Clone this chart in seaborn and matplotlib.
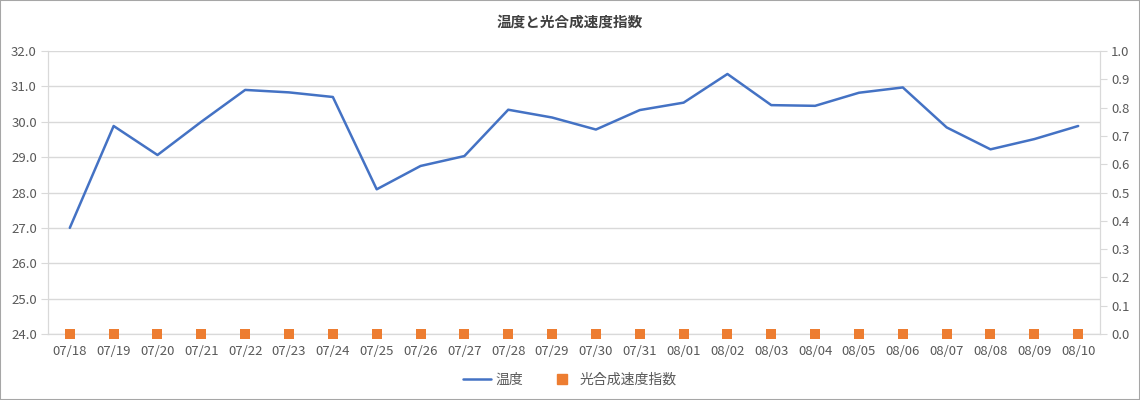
import pandas as pd
import matplotlib.pyplot as plt
import seaborn as sns
from matplotlib.lines import Line2D
from matplotlib.patches import Rectangle

# データ
dates = ['07/18', '07/19', '07/20', '07/21', '07/22', '07/23', '07/24', '07/25',
         '07/26', '07/27', '07/28', '07/29', '07/30', '07/31', '08/01', '08/02',
         '08/03', '08/04', '08/05', '08/06', '08/07', '08/08', '08/09', '08/10']
temperature = [27.0, 29.88, 29.06, 30.0, 30.9, 30.83, 30.7, 28.09,
               28.75, 29.03, 30.34, 30.12, 29.78, 30.33, 30.54, 31.35,
               30.47, 30.45, 30.82, 30.97, 29.84, 29.22, 29.51, 29.88]
photo_index = [0.0] * 24

df = pd.DataFrame({'x': range(len(dates)), '日付': dates,
                   '温度': temperature, '光合成速度指数': photo_index})

sns.set_style('white')
plt.rcParams['font.family'] = ['Noto Sans CJK JP', 'DejaVu Sans']

blue = '#4472C4'
orange = '#ED7D31'
grid_c = '#D9D9D9'
text_c = '#595959'

fig = plt.figure(figsize=(11.4, 4.0), dpi=100)
ax = fig.add_axes([0.042, 0.165, 0.923, 0.7075])

sns.lineplot(x='x', y='温度', data=df, ax=ax, color=blue, linewidth=1.8, legend=False)
ax.set_ylim(24, 32)
ax.set_yticks([24 + i for i in range(9)])
ax.set_yticklabels([f'{24 + i:.1f}' for i in range(9)])
ax.set_xlim(-0.5, len(dates) - 0.5)
ax.set_xticks(range(len(dates)))
ax.set_xticklabels(dates)
ax.set_xticks([i - 0.5 for i in range(len(dates) + 1)], minor=True)
ax.tick_params(axis='x', which='major', length=0, pad=8, labelsize=9.5, labelcolor=text_c)
ax.tick_params(axis='x', which='minor', length=5, color=grid_c, direction='out')
ax.tick_params(axis='y', length=5, color=grid_c, direction='out', labelsize=9.5, labelcolor=text_c, pad=3)
ax.yaxis.grid(True, color=grid_c, linewidth=1)
ax.set_axisbelow(True)
ax.set_xlabel('')
ax.set_ylabel('')
ax.spines['top'].set_visible(False)
for s in ['left', 'bottom', 'right']:
    ax.spines[s].set_color(grid_c)

ax2 = ax.twinx()
sns.scatterplot(x='x', y='光合成速度指数', data=df, ax=ax2, color=orange, marker='s',
                s=45, edgecolor=orange, linewidth=0, legend=False, zorder=5, clip_on=False)
ax2.set_ylim(0, 1.0)
ax2.set_yticks([i / 10 for i in range(11)])
ax2.set_yticklabels([f'{i / 10:.1f}' for i in range(11)])
ax2.tick_params(axis='y', length=5, color=grid_c, direction='out', labelsize=9.5, labelcolor=text_c, pad=3)
ax2.set_ylabel('')
ax2.spines['top'].set_visible(False)
for s in ['left', 'bottom', 'right']:
    ax2.spines[s].set_color(grid_c)

fig.suptitle('温度と光合成速度指数', x=0.5, y=0.965, fontsize=10.5, fontweight='bold', color='#404040')

handles = [Line2D([0], [0], color=blue, linewidth=1.8),
           Line2D([0], [0], color=orange, marker='s', linestyle='none', markersize=7)]
fig.legend(handles, ['温度', '光合成速度指数'], loc='center', bbox_to_anchor=(0.5, 0.05),
           ncol=2, frameon=False, fontsize=10, labelcolor=text_c, columnspacing=1.8,
           handlelength=2.0, handletextpad=0.3)

fig.patches.append(Rectangle((0, 0), 1, 1, transform=fig.transFigure, fill=False,
                             edgecolor='#A6A6A6', linewidth=1.5))

plt.savefig('out.png', dpi=100)
